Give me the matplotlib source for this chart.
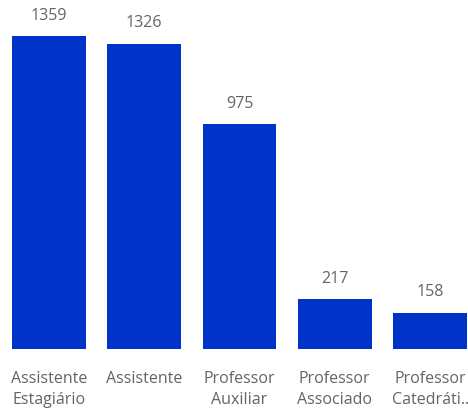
import matplotlib

matplotlib.use("Agg")
import matplotlib.pyplot as plt

categories = ["Assistente\nEstagiário", "Assistente", "Professor\nAuxiliar",
              "Professor\nAssociado", "Professor\nCatedráti.."]
counts = [1359, 1326, 975, 217, 158]

BAR = "#0033C8"
TXT = "#646464"
W_PX, H_PX = 468, 411

plt.rcParams["font.family"] = ["Open Sans", "DejaVu Sans"]

fig = plt.figure(figsize=(W_PX / 100, H_PX / 100), dpi=100)
# axes placed in pixel terms: bars span x 12..467, baseline y 349, top bar at y 36
left, right = 12 / W_PX, 467 / W_PX
bottom, top = 1 - 349 / H_PX, 1 - 36 / H_PX
ax = fig.add_axes([left, bottom, right - left, top - bottom])

width = 0.775
xs = range(len(categories))
ax.bar(xs, counts, width=width, color=BAR)
ax.set_xlim(-width / 2, len(categories) - 1 + width / 2)
ax.set_ylim(0, max(counts))

for x, v in zip(xs, counts):
    ax.annotate(str(v), (x, v), xytext=(0, 9), textcoords="offset points",
                ha="center", va="bottom", fontsize=11.5, color=TXT)

ax.set_xticks(list(xs))
ax.set_xticklabels(categories, fontsize=11.5, color=TXT, linespacing=1.4)
ax.tick_params(axis="x", length=0, pad=16)
ax.set_yticks([])
for s in ax.spines.values():
    s.set_visible(False)

fig.savefig("out.png", dpi=100)
